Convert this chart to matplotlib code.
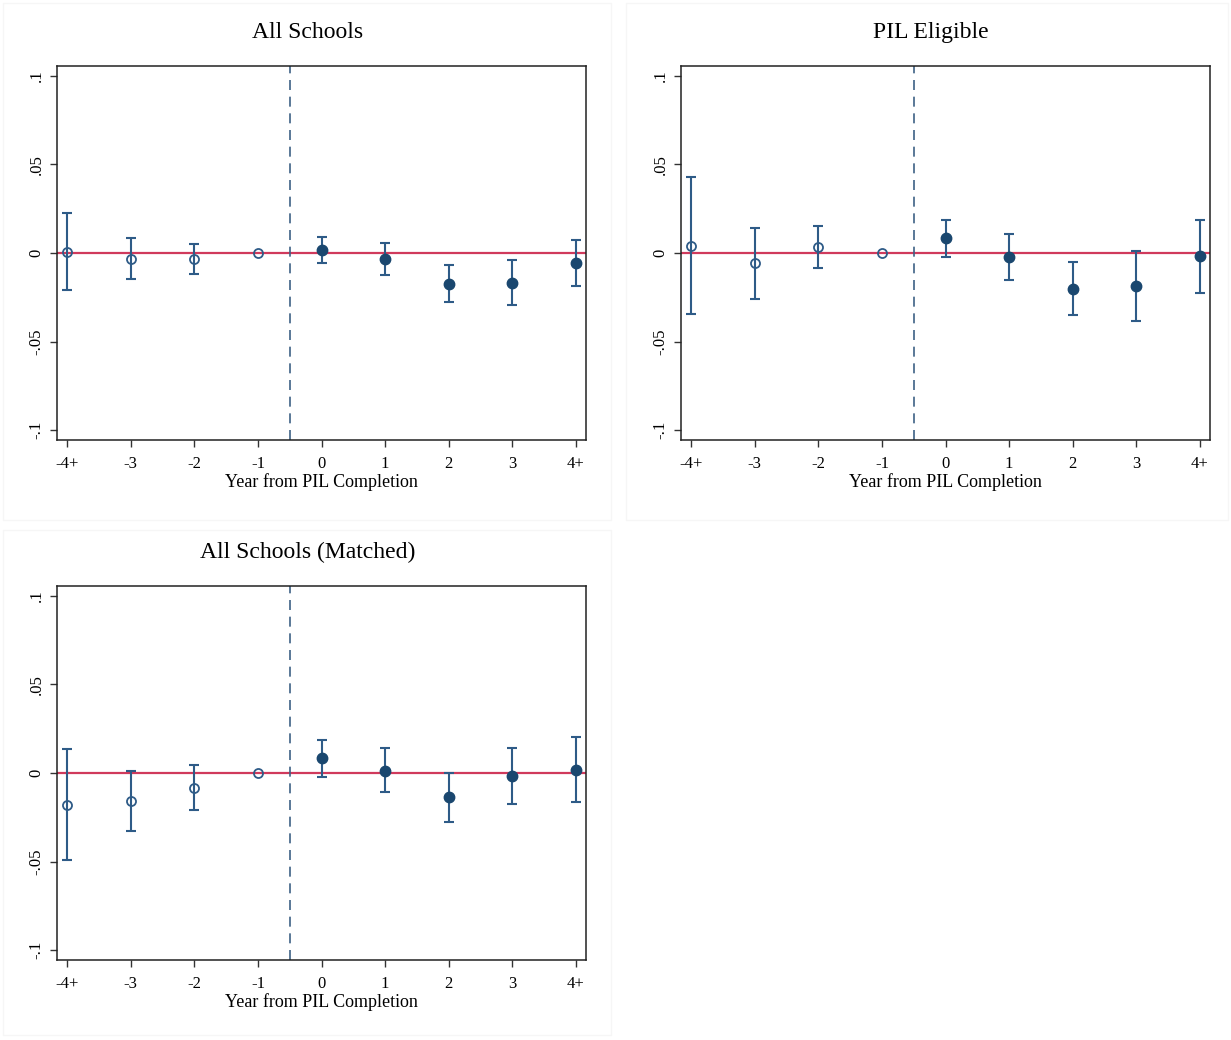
import matplotlib.pyplot as plt
from matplotlib.patches import Rectangle

plt.rcParams['font.family'] = ['Liberation Serif', 'DejaVu Serif']

years = [-4, -3, -2, -1, 0, 1, 2, 3, 4]
year_labels = ['-4+', '-3', '-2', '-1', '0', '1', '2', '3', '4+']

# All Schools
all_coef = [0.0006, -0.0032, -0.0032, 0.0, 0.0015, -0.0032, -0.0173, -0.0167, -0.0055]
all_hi = [0.0224, 0.0082, 0.0053, 0.0, 0.0091, 0.0059, -0.0070, -0.0040, 0.0074]
all_lo = [-0.0209, -0.0146, -0.0118, 0.0, -0.0057, -0.0122, -0.0276, -0.0293, -0.0186]

# PIL Eligible
elig_coef = [0.0042, -0.0059, 0.0032, 0.0, 0.0082, -0.0025, -0.0202, -0.0188, -0.0019]
elig_hi = [0.0430, 0.0141, 0.0154, 0.0, 0.0188, 0.0108, -0.0049, 0.0011, 0.0188]
elig_lo = [-0.0346, -0.0260, -0.0084, 0.0, -0.0023, -0.0154, -0.0352, -0.0384, -0.0226]

# All Schools (Matched)
match_coef = [-0.0181, -0.0158, -0.0086, 0.0, 0.0082, 0.0013, -0.0137, -0.0019, 0.0017]
match_hi = [0.0133, 0.0010, 0.0044, 0.0, 0.0188, 0.0141, 0.0002, 0.0143, 0.0202]
match_lo = [-0.0494, -0.0325, -0.0211, 0.0, -0.0023, -0.0108, -0.0274, -0.0177, -0.0164]

navy = '#1a476f'
bar_col = '#2e5b87'
red = '#d03a5c'

W, H = 1231, 1040
fig = plt.figure(figsize=(W / 100, H / 100), dpi=100)


def box(l, r, t, b):
    return [l / W, 1 - b / H, (r - l) / W, (b - t) / H]


# faint panel borders
for (l, t, r, b) in [(3, 3, 611, 520), (626, 3, 1228, 520), (3, 530, 611, 1035)]:
    fig.patches.append(Rectangle((l / W, 1 - b / H), (r - l) / W, (b - t) / H,
                                 transform=fig.transFigure, fill=False,
                                 edgecolor='#f6f6f6', linewidth=1))


def panel(rect, title, coef, hi, lo):
    ax = fig.add_axes(box(*rect))
    ax.axhline(0, color=red, linewidth=1.6, zorder=1)
    ax.axvline(-0.5, color='#3d6185', linewidth=1.2, linestyle=(0, (6, 4)), zorder=1)
    for x, c, h, l in zip(years, coef, hi, lo):
        if x != -1:
            ax.errorbar([x], [c], yerr=[[c - l], [h - c]], fmt='none',
                        ecolor=bar_col, elinewidth=1.5, capsize=3.5, capthick=1.5, zorder=2)
        if x < 0:
            ax.plot(x, c, 'o', markersize=6.5, markerfacecolor='none',
                    markeredgecolor=bar_col, markeredgewidth=1.3, zorder=3)
        else:
            ax.plot(x, c, 'o', markersize=7.5, color=navy, zorder=3)
    ax.set_xlim(-4.16, 4.16)
    ax.set_ylim(-0.1056, 0.1056)
    ax.set_xticks(years)
    ax.set_xticklabels(year_labels, fontsize=12)
    ax.set_yticks([-0.1, -0.05, 0, 0.05, 0.1])
    ax.set_yticklabels(['-.1', '-.05', '0', '.05', '.1'], rotation=90,
                       va='center', fontsize=12)
    ax.tick_params(direction='out', length=5, width=1, color='#333333')
    ax.tick_params(axis='x', pad=6.5)
    ax.tick_params(axis='y', pad=4)
    for s in ax.spines.values():
        s.set_linewidth(1.1)
        s.set_color('#222222')
    ax.set_xlabel('Year from PIL Completion', fontsize=13, labelpad=0.5)
    ax.set_title(title, fontsize=17, pad=20, x=0.473)
    return ax


panel((57, 586, 66, 440), 'All Schools', all_coef, all_hi, all_lo)
panel((681, 1210, 66, 440), 'PIL Eligible', elig_coef, elig_hi, elig_lo)
panel((57, 586, 586, 960), 'All Schools (Matched)', match_coef, match_hi, match_lo)

fig.savefig('out.png', dpi=100)
